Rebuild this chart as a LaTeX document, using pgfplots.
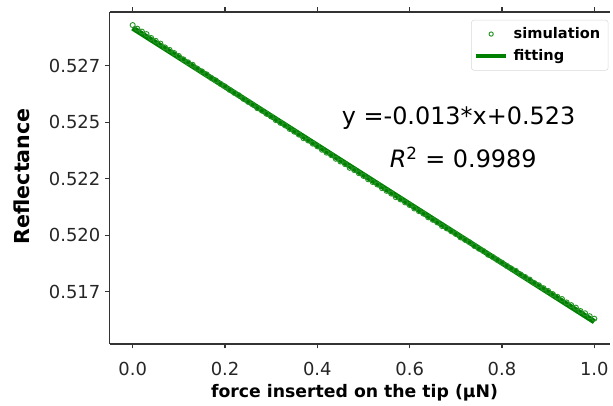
\documentclass[border=0pt]{standalone}
\usepackage{fontspec}
\setmainfont{DejaVu Sans}
\usepackage{pgfplots}
\pgfplotsset{compat=1.18}
\definecolor{mplgreen}{HTML}{008000}
\definecolor{spine}{HTML}{333333}
\pgfplotsset{
  simleg/.style={legend image code/.code={\draw[mark size=1.6pt, ##1] plot coordinates {(0.4cm,0cm)};}},
  fitleg/.style={legend image code/.code={\draw[##1, line width=3pt] (0cm,0cm) -- (0.8cm,0cm);}},
}

\pgfplotstableread{
x y
0.00 0.52930
0.01 0.52914
0.02 0.52901
0.03 0.52890
0.04 0.52873
0.05 0.52860
0.06 0.52848
0.07 0.52831
0.08 0.52820
0.09 0.52806
0.10 0.52793
0.11 0.52778
0.12 0.52765
0.13 0.52754
0.14 0.52737
0.15 0.52725
0.16 0.52712
0.17 0.52696
0.18 0.52685
0.19 0.52670
0.20 0.52658
0.21 0.52643
0.22 0.52630
0.23 0.52619
0.24 0.52603
0.25 0.52590
0.26 0.52578
0.27 0.52562
0.28 0.52551
0.29 0.52537
0.30 0.52525
0.31 0.52509
0.32 0.52497
0.33 0.52486
0.34 0.52470
0.35 0.52458
0.36 0.52445
0.37 0.52429
0.38 0.52419
0.39 0.52405
0.40 0.52393
0.41 0.52378
0.42 0.52365
0.43 0.52354
0.44 0.52338
0.45 0.52326
0.46 0.52314
0.47 0.52298
0.48 0.52288
0.49 0.52274
0.50 0.52262
0.51 0.52247
0.52 0.52235
0.53 0.52224
0.54 0.52208
0.55 0.52196
0.56 0.52184
0.57 0.52168
0.58 0.52158
0.59 0.52145
0.60 0.52133
0.61 0.52118
0.62 0.52106
0.63 0.52095
0.64 0.52079
0.65 0.52068
0.66 0.52056
0.67 0.52040
0.68 0.52030
0.69 0.52017
0.70 0.52005
0.71 0.51990
0.72 0.51979
0.73 0.51968
0.74 0.51952
0.75 0.51940
0.76 0.51929
0.77 0.51913
0.78 0.51903
0.79 0.51890
0.80 0.51878
0.81 0.51864
0.82 0.51852
0.83 0.51842
0.84 0.51826
0.85 0.51815
0.86 0.51803
0.87 0.51788
0.88 0.51778
0.89 0.51765
0.90 0.51753
0.91 0.51739
0.92 0.51727
0.93 0.51717
0.94 0.51702
0.95 0.51690
0.96 0.51679
0.97 0.51664
0.98 0.51654
0.99 0.51641
1.00 0.51630
}\simdata

\begin{document}
\begin{tikzpicture}
\begin{axis}[
    name=ax,
    scale only axis,
    width=377pt, height=249.75pt,
    xmin=-0.05, xmax=1.035,
    ymin=0.51519, ymax=0.52988,
    axis y line*=left, axis x line*=box,
    axis line style={spine, line width=1.2pt},
    tick style={spine, line width=0.8pt},
    tick align=outside, major tick length=3.5pt,
    xtick={0,0.2,0.4,0.6,0.8,1.0},
    xticklabels={0.0,0.2,0.4,0.6,0.8,1.0},
    ytick={0.5175,0.5200,0.5225,0.5250,0.5275},
    yticklabels={0.517,0.520,0.522,0.525,0.527},
    ticklabel style={font=\fontsize{13.5}{15}\selectfont, text=black!85},
    xticklabel style={yshift=-6.5pt},
    xlabel={\textbf{force inserted on the tip (μN)}},
    ylabel={\textbf{Reflectance}},
    xlabel style={font=\fontsize{13}{15}\selectfont, at={(axis description cs:0.489,0)}, anchor=center, yshift=-37pt},
    ylabel style={font=\fontsize{15.5}{17}\selectfont, at={(axis description cs:-0.175,0.505)}, anchor=center},
    legend style={at={(0.996,0.976)}, anchor=north east,
        draw=black!15, rounded corners=2pt,
        font=\fontsize{11}{13}\selectfont\bfseries,
        row sep=3pt, inner xsep=2pt, inner ysep=3.5pt,
        nodes={inner xsep=4pt}},
    legend cell align=left,
    clip=false,
]
\addplot[only marks, mark=o, mark size=1.9pt, mplgreen!85, mark options={line width=0.7pt}, simleg] table {\simdata};
\addlegendentry{simulation}
\addplot[mplgreen, line width=4pt, fitleg] coordinates {(0,0.52917) (1,0.51617)};
\addlegendentry{fitting}
\node[anchor=center, font=\fontsize{18}{20}\selectfont] at (axis cs:0.706,0.52520) {y =-0.013*x+0.523};
\node[anchor=center, font=\fontsize{18}{20}\selectfont] at (axis cs:0.716,0.52344) {\textit{R}$^{\mathrm{2}}$ = 0.9989};
\end{axis}
\path (ax.south west) ++(-82.5pt,-45.75pt) coordinate (bl);
\path (ax.north east) ++(0,9pt) coordinate (tr);
\path (bl) rectangle (tr);
\end{tikzpicture}
\end{document}
